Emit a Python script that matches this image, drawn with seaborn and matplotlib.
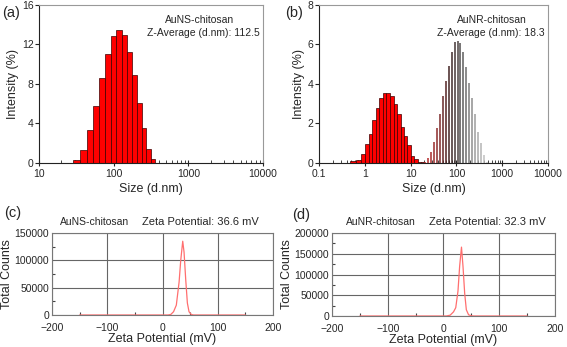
"""DLS size distributions and zeta potentials for AuNS-chitosan and AuNR-chitosan."""
import matplotlib

matplotlib.use("Agg")
import matplotlib.pyplot as plt
import numpy as np
import seaborn as sns
from matplotlib.colors import LinearSegmentedColormap
from matplotlib.ticker import FuncFormatter, LogLocator, MultipleLocator

# (a) AuNS-chitosan size distribution by intensity
auns_size_nm = [31.9, 39.3, 48.2, 58.5, 70.1, 83.6, 99.0, 117.2, 139.5, 162.7,
                188.2, 219.6, 256.2, 295.5, 335.7]
auns_intensity = [0.34, 1.35, 3.3, 5.8, 8.6, 11.0, 12.9, 13.5, 12.95, 11.2,
                  8.9, 6.1, 3.5, 1.4, 0.4]

# (b) AuNR-chitosan size distribution (red bars)
aunr_size_nm = [0.55, 0.73, 0.91, 1.11, 1.34, 1.61, 1.91, 2.27, 2.70, 3.24,
                3.93, 4.69, 5.55, 6.59, 7.80, 9.26, 11.0, 13.0, 15.4, 18.2]
aunr_intensity = [0.08, 0.15, 0.45, 0.95, 1.47, 2.18, 2.77, 3.27, 3.56, 3.56,
                  3.39, 2.97, 2.46, 1.84, 1.37, 0.91, 0.37, 0.22, 0.07, 0.05]

# (b) second distribution drawn as thin lines
aunr_line_size_nm = [21.04, 24.36, 28.21, 32.67, 37.84, 43.82, 50.75, 58.77, 68.06,
                     78.82, 91.28, 105.7, 122.4, 141.8, 164.2, 190.1, 220.2, 255.0,
                     295.3, 342.0, 396.1, 458.7]
aunr_line_intensity = [0.07, 0.27, 0.56, 1.05, 1.79, 2.48, 3.39, 4.17, 4.93,
                       5.64, 6.11, 6.19, 6.06, 5.6, 4.88, 4.07, 3.27, 2.48,
                       1.55, 1.0, 0.4, 0.07]

# (c) AuNS-chitosan zeta potential
zeta_c_mv = [-150, 10, 15, 20, 25, 30, 33, 36.6, 39, 42, 45, 48, 52, 56, 150]
zeta_c_counts = [0, 0, 1000, 6000, 18000, 60000, 100000, 135000, 115000,
                 65000, 22000, 6000, 1000, 0, 0]

# (d) AuNR-chitosan zeta potential
zeta_d_mv = [-150, 5, 12, 18, 22, 26, 29, 32.3, 35, 38, 41, 45, 50, 55, 150]
zeta_d_counts = [0, 0, 2000, 10000, 20000, 60000, 120000, 166000, 120000,
                 55000, 15000, 3000, 500, 0, 0]

sns.set_style("ticks")
plt.rcParams["font.family"] = ["Liberation Sans", "DejaVu Sans"]
plt.rcParams["axes.linewidth"] = 0.8

RED = "#ff0000"
ZETA_RED = "#ff6f6f"


def log_edges(centers):
    """Bar edges half way (in log space) between neighbouring bin centres."""
    lc = np.log10(centers)
    mid = (lc[:-1] + lc[1:]) / 2
    first = lc[0] - (mid[0] - lc[0])
    last = lc[-1] + (lc[-1] - mid[-1])
    return 10 ** np.concatenate([[first], mid, [last]])


def style_size_axis(ax, xlim, ymax, ystep):
    ax.set_xscale("log")
    ax.set_xlim(*xlim)
    ax.set_ylim(0, ymax)
    ax.set_yticks(np.arange(0, ymax + 0.1, ystep))
    ax.xaxis.set_major_locator(LogLocator(base=10))
    ax.xaxis.set_minor_locator(LogLocator(base=10, subs=np.arange(2, 10)))
    ax.xaxis.set_major_formatter(FuncFormatter(lambda v, _: f"{v:g}"))
    ax.xaxis.set_minor_formatter(FuncFormatter(lambda v, _: ""))
    ax.tick_params(axis="x", which="major", direction="inout", length=5, width=0.8, labelsize=7.5, pad=2)
    ax.tick_params(axis="x", which="minor", direction="in", length=2, width=0.6)
    ax.tick_params(axis="y", direction="out", length=3, width=0.8, labelsize=7.5, pad=1)
    for side, sp in ax.spines.items():
        sp.set_color("#222222" if side in ("left", "bottom") else "#999999")
    ax.set_xlabel("Size (d.nm)", fontsize=9, labelpad=3)
    ax.set_ylabel("Intensity (%)", fontsize=9, labelpad=2)


def style_zeta_axis(ax, ymax):
    ax.set_xlim(-200, 200)
    ax.set_ylim(0, ymax)
    ax.xaxis.set_major_locator(MultipleLocator(100))
    ax.xaxis.set_minor_locator(MultipleLocator(50))
    ax.yaxis.set_major_locator(MultipleLocator(50000))
    ax.yaxis.set_minor_locator(MultipleLocator(25000))
    ax.grid(True, which="major", color="#666666", linewidth=0.8)
    ax.tick_params(which="major", length=0, labelsize=7.5)
    ax.tick_params(axis="x", which="major", pad=6)
    ax.tick_params(axis="y", which="major", pad=2)
    ax.tick_params(which="minor", direction="in", length=2, width=0.8, color="#444444")
    for sp in ax.spines.values():
        sp.set_color("#777777")
    ax.set_xlabel("Zeta Potential (mV)", fontsize=9, labelpad=0)
    ax.set_ylabel("Total Counts", fontsize=9, labelpad=1)


fig = plt.figure(figsize=(5.67, 3.47), dpi=100)

# (a)
ax_a = fig.add_axes([0.0688, 0.5303, 0.395, 0.4553])
edges_a = log_edges(auns_size_nm)
ax_a.bar(edges_a[:-1], auns_intensity, width=np.diff(edges_a), align="edge",
         color=RED, edgecolor="#3a0000", linewidth=0.5)
style_size_axis(ax_a, (10, 10000), 16, 4)
ax_a.text(0.716, 0.905, "AuNS-chitosan", transform=ax_a.transAxes,
          ha="center", va="center", fontsize=7.5)
ax_a.text(0.985, 0.823, "Z-Average (d.nm): 112.5", transform=ax_a.transAxes,
          ha="right", va="center", fontsize=7.5)

# (b)
ax_b = fig.add_axes([0.5626, 0.5303, 0.4039, 0.4553])
edges_b = log_edges(aunr_size_nm)
ax_b.bar(edges_b[:-1], aunr_intensity, width=np.diff(edges_b), align="edge",
         color=RED, edgecolor="#3a0000", linewidth=0.5)
line_cmap = LinearSegmentedColormap.from_list(
    "dls", ["#c02828", "#8a2a2a", "#3a2222", "#555555", "#9a9a9a", "#cccccc"])
line_colors = line_cmap(np.linspace(0, 1, len(aunr_line_size_nm)))
ax_b.vlines(aunr_line_size_nm, 0, aunr_line_intensity, colors=line_colors, linewidth=1.1)
style_size_axis(ax_b, (0.1, 10000), 8, 2)
ax_b.text(0.755, 0.905, "AuNR-chitosan", transform=ax_b.transAxes,
          ha="center", va="center", fontsize=7.5)
ax_b.text(0.985, 0.823, "Z-Average (d.nm): 18.3", transform=ax_b.transAxes,
          ha="right", va="center", fontsize=7.5)

# (c)
ax_c = fig.add_axes([0.0917, 0.0922, 0.3898, 0.2363])
sns.lineplot(x=zeta_c_mv, y=zeta_c_counts, ax=ax_c, color=ZETA_RED, linewidth=0.9)
style_zeta_axis(ax_c, 150000)

# (d)
ax_d = fig.add_axes([0.5855, 0.0893, 0.3933, 0.2392])
sns.lineplot(x=zeta_d_mv, y=zeta_d_counts, ax=ax_d, color=ZETA_RED, linewidth=0.9)
style_zeta_axis(ax_d, 200000)

# panel captions
fig.text(0.003, 0.963, "(a)", fontsize=10.5, va="center")
fig.text(0.503, 0.963, "(b)", fontsize=10.5, va="center")
fig.text(0.008, 0.385, "(c)", fontsize=10.5, va="center")
fig.text(0.516, 0.380, "(d)", fontsize=10.5, va="center")
fig.text(0.167, 0.360, "AuNS-chitosan", fontsize=7.5, ha="center", va="center")
fig.text(0.353, 0.360, "Zeta Potential: 36.6 mV", fontsize=8, ha="center", va="center")
fig.text(0.672, 0.360, "AuNR-chitosan", fontsize=7.5, ha="center", va="center")
fig.text(0.859, 0.360, "Zeta Potential: 32.3 mV", fontsize=8, ha="center", va="center")

fig.savefig("out.png", dpi=100)
plt.close(fig)
